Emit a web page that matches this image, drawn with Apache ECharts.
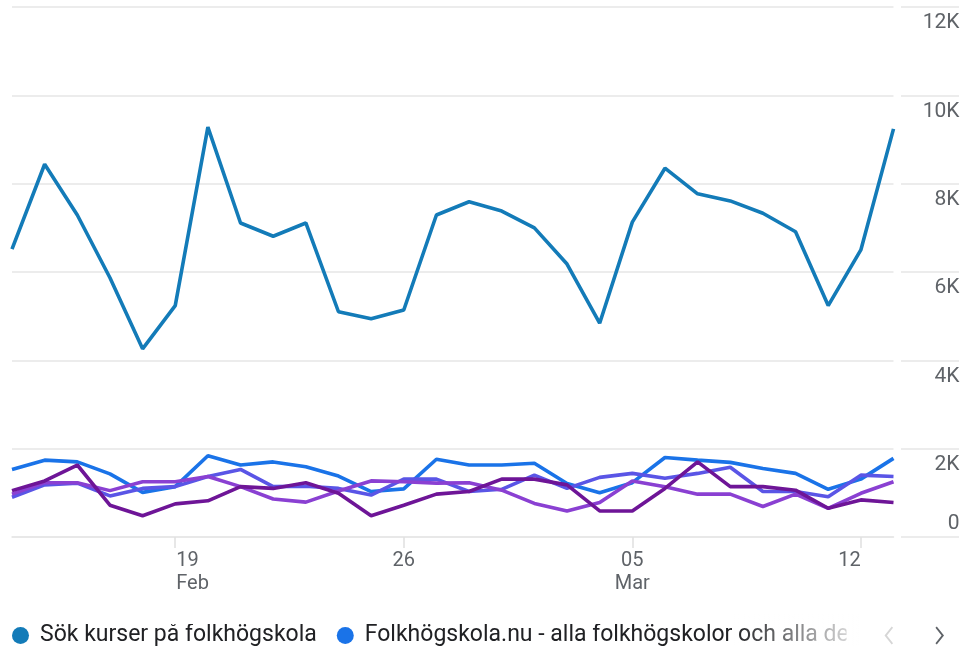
<!DOCTYPE html>
<html>
<head>
<meta charset="utf-8">
<script src="https://cdn.jsdelivr.net/npm/echarts@6/dist/echarts.min.js"></script>
<style>
  html, body { margin: 0; padding: 0; background: #fff; }
  #chart { width: 966px; height: 646px; }
</style>
</head>
<body>
<div id="chart"></div>
<script>
// Daily dates shown on the category axis
const dates = [
  '2023-02-14', '2023-02-15', '2023-02-16', '2023-02-17', '2023-02-18', '2023-02-19', '2023-02-20',
  '2023-02-21', '2023-02-22', '2023-02-23', '2023-02-24', '2023-02-25', '2023-02-26', '2023-02-27',
  '2023-02-28', '2023-03-01', '2023-03-02', '2023-03-03', '2023-03-04', '2023-03-05', '2023-03-06',
  '2023-03-07', '2023-03-08', '2023-03-09', '2023-03-10', '2023-03-11', '2023-03-12', '2023-03-13'
];

// Dates that carry a tick, and the label printed under each tick
const tickDates = ['2023-02-19', '2023-02-26', '2023-03-05', '2023-03-12'];
const tickLabels = [['19', 'Feb'], ['26'], ['05', 'Mar'], ['12']];

// Value-axis labels, bottom to top
const yTickLabels = ['0', '2K', '4K', '6K', '8K', '10K', '12K'];

// Series names
const seriesNames = [
  'Sök kurser på folkhögskola',
  'Folkhögskola.nu - alla folkhögskolor och alla deras kurser',
  'Folkhögskolor',
  'Kurser',
  'Om folkhögskola'
];

// Daily values per series
const sokKurser = [6520, 8440, 7290, 5870, 4260, 5240, 9280, 7110, 6810, 7110, 5100, 4940, 5140, 7290,
                   7590, 7380, 7000, 6180, 4840, 7130, 8350, 7770, 7610, 7330, 6910, 5240, 6500, 9240];
const folkhogskolaNu = [1530, 1740, 1700, 1430, 1010, 1140, 1840, 1630, 1700, 1590, 1380, 1030, 1090, 1760,
                        1630, 1630, 1670, 1210, 1000, 1230, 1800, 1740, 1690, 1550, 1440, 1080, 1310, 1780];
const serie3 = [900, 1180, 1220, 930, 1100, 1140, 1370, 1530, 1140, 1150, 1100, 950, 1310, 1310,
                1030, 1080, 1400, 1100, 1350, 1440, 1330, 1440, 1580, 1030, 1030, 910, 1400, 1370];
const serie4 = [970, 1230, 1230, 1050, 1250, 1250, 1370, 1140, 860, 790, 1040, 1270, 1250, 1220,
                1230, 1060, 760, 590, 780, 1270, 1140, 970, 970, 690, 970, 650, 990, 1250];
const serie5 = [1050, 1270, 1630, 720, 480, 750, 820, 1140, 1100, 1230, 990, 480, 720, 970,
                1030, 1310, 1310, 1180, 590, 590, 1100, 1700, 1140, 1140, 1060, 650, 840, 780];

const seriesValues = [sokKurser, folkhogskolaNu, serie3, serie4, serie5];
const seriesColors = ['#137bb8', '#1a73e8', '#5a55e6', '#8a40d2', '#6e1597'];

// Horizontal placement of each tick label relative to its tick
const tickAlign = ['l', 'c', 'c', 'r'];

const chart = echarts.init(document.getElementById('chart'), null, { renderer: 'canvas' });

const gridTop = 7, gridBottom = 109;
const gridLineStyle = { color: '#e6e6e6', width: 1.5 };

function xLabel(value) {
  const k = tickDates.indexOf(value);
  if (k < 0) return '';
  const tag = tickAlign[k];
  return tickLabels[k].map(t => '{' + tag + '|' + t + '}').join('\n');
}

const axisGrey = '#5f6368';

const option = {
  animation: false,
  textStyle: { fontFamily: 'Roboto, "Noto Sans", sans-serif' },
  grid: [
    { left: 12, right: 72.5, top: gridTop, bottom: gridBottom, outerBoundsMode: 'none', containLabel: false },
    { left: 901, right: 7, top: gridTop, bottom: gridBottom, outerBoundsMode: 'none', containLabel: false }
  ],
  xAxis: [
    {
      type: 'category',
      gridIndex: 0,
      data: dates,
      boundaryGap: false,
      axisLine: { show: true, lineStyle: gridLineStyle },
      axisTick: {
        show: true,
        length: 11,
        interval: (i, v) => tickDates.indexOf(v) >= 0,
        lineStyle: { color: '#e0e0e0', width: 1.5 }
      },
      axisLabel: {
        interval: (i, v) => tickDates.indexOf(v) >= 0,
        formatter: xLabel,
        margin: 12,
        align: 'center',
        color: axisGrey,
        fontSize: 20,
        lineHeight: 23,
        rich: {
          l: { fontSize: 20, lineHeight: 23, color: axisGrey, width: 60, align: 'left', padding: [0, 0, 0, 62] },
          c: { fontSize: 20, lineHeight: 23, color: axisGrey },
          r: { fontSize: 20, lineHeight: 23, color: axisGrey, width: 60, align: 'right', padding: [0, 60, 0, 0] }
        }
      },
      splitLine: { show: false }
    },
    {
      type: 'value',
      gridIndex: 1,
      min: 0, max: 1,
      show: false
    }
  ],
  yAxis: [
    {
      type: 'value',
      gridIndex: 0,
      position: 'right',
      min: 0, max: 12000, interval: 2000,
      axisLine: { show: false },
      axisTick: { show: false },
      splitLine: { show: true, lineStyle: gridLineStyle },
      axisLabel: {
        margin: 66,
        align: 'right',
        verticalAlign: 'middle',
        color: axisGrey,
        fontSize: 21,
        formatter: (v) => {
          const t = yTickLabels[Math.round(v / 2000)];
          return v === 0 ? '{z|' + t + '}' : '{n|' + t + '}';
        },
        rich: {
          n: { fontSize: 21, lineHeight: 21, color: axisGrey, padding: [32, 0, 0, 0] },
          z: { fontSize: 21, lineHeight: 21, color: axisGrey, padding: [0, 0, 26, 0] }
        }
      }
    },
    {
      type: 'value',
      gridIndex: 1,
      min: 0, max: 12000, interval: 2000,
      axisLine: { show: false },
      axisTick: { show: false },
      axisLabel: { show: false },
      splitLine: { show: true, lineStyle: gridLineStyle }
    }
  ],
  legend: {
    type: 'scroll',
    orient: 'horizontal',
    left: 12,
    top: 624,
    width: 932,
    padding: 0,
    icon: 'circle',
    itemWidth: 17,
    itemHeight: 17,
    itemGap: 20,
    textStyle: { fontSize: 23, color: '#202124', padding: [0, 0, 0, 6] },
    pageButtonPosition: 'end',
    pageButtonGap: 38,
    pageButtonItemGap: 20,
    pageFormatter: () => '',
    pageTextStyle: { fontSize: 1, color: 'rgba(0,0,0,0)' },
    pageIconSize: [9, 18],
    pageIconColor: axisGrey,
    pageIconInactiveColor: '#d6d6d6',
    pageIcons: {
      horizontal: [
        'path://M8,0 L9.5,1.5 L2.7,10 L9.5,18.5 L8,20 L0,10 Z',
        'path://M1.5,0 L0,1.5 L6.8,10 L0,18.5 L1.5,20 L9.5,10 Z'
      ]
    },
    data: seriesNames
  },
  graphic: [
    {
      type: 'rect',
      silent: true,
      z: 100,
      shape: { x: 733, y: 614, width: 128, height: 32 },
      style: {
        fill: new echarts.graphic.LinearGradient(0, 0, 1, 0, [
          { offset: 0, color: 'rgba(255,255,255,0)' },
          { offset: 1, color: 'rgba(255,255,255,0.9)' }
        ])
      }
    }
  ],
  series: seriesValues.map((vals, k) => ({
    type: 'line',
    name: seriesNames[k],
    xAxisIndex: 0,
    yAxisIndex: 0,
    data: vals,
    symbol: 'none',
    smooth: false,
    color: seriesColors[k],
    lineStyle: { width: 3.6, color: seriesColors[k] },
    z: 2 + k
  }))
};

chart.setOption(option);
</script>
</body>
</html>
